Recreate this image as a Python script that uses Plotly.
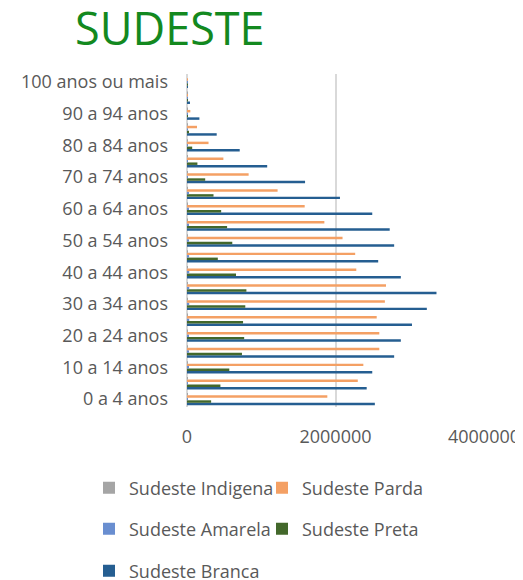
import plotly.graph_objects as go

categories = ["0 a 4 anos", "5 a 9 anos", "10 a 14 anos", "15 a 19 anos", "20 a 24 anos",
              "25 a 29 anos", "30 a 34 anos", "35 a 39 anos", "40 a 44 anos", "45 a 49 anos",
              "50 a 54 anos", "55 a 59 anos", "60 a 64 anos", "65 a 69 anos", "70 a 74 anos",
              "75 a 79 anos", "80 a 84 anos", "85 a 89 anos", "90 a 94 anos", "95 a 99 anos",
              "100 anos ou mais"]

branca = [2530000, 2420000, 2495000, 2790000, 2880000, 3030000, 3230000, 3360000, 2880000, 2575000,
          2790000, 2730000, 2495000, 2060000, 1590000, 1080000, 710000, 400000, 167000, 40000, 6000]
parda = [1890000, 2300000, 2375000, 2590000, 2590000, 2555000, 2665000, 2680000, 2280000, 2265000,
         2095000, 1850000, 1585000, 1220000, 830000, 490000, 290000, 135000, 45000, 10000, 2000]
preta = [325000, 450000, 570000, 740000, 770000, 755000, 785000, 800000, 660000, 415000,
         610000, 540000, 460000, 357000, 245000, 140000, 70000, 27000, 8000, 2000, 500]
amarela = [10000, 12000, 15000, 20000, 25000, 30000, 30000, 30000, 30000, 28000,
           25000, 22000, 20000, 15000, 12000, 10000, 8000, 4000, 2000, 500, 100]
indigena = [8000, 8000, 8000, 9000, 10000, 10000, 10000, 9000, 8000, 7000,
            6000, 5000, 4000, 3000, 2000, 1500, 1000, 500, 200, 100, 50]

tick_labels = categories[::2]
x_ticks = [0, 2000000, 4000000]

series = [
    ("Sudeste Branca", branca, "#255E91", "legend3", 5),
    ("Sudeste Preta", preta, "#43682B", "legend2", 4),
    ("Sudeste Amarela", amarela, "#698ED0", "legend2", 3),
    ("Sudeste Parda", parda, "#F4A064", "legend", 2),
    ("Sudeste Indigena", indigena, "#A5A5A5", "legend", 1),
]

fig = go.Figure()
for name, vals, color, leg, rank in series:
    fig.add_trace(go.Bar(
        y=categories, x=vals, name=name, orientation="h",
        marker=dict(color=color, line=dict(width=0)),
        legend=leg, legendrank=rank,
    ))

font_family = "Open Sans, Noto Sans, sans-serif"
# the page body adds an 8px margin, so the figure is 8px smaller than the window
OFF = 8
W, H = 523 - OFF, 580 - OFF
L, R, T, B = 187 - OFF, 39, 74 - OFF, 173
plot_h = H - T - B
plot_w = W - L - R


def paper_y(page_px):
    return (H - B - (page_px - OFF)) / plot_h


def paper_x(page_px):
    return ((page_px - OFF) - L) / plot_w


legend_common = dict(
    orientation="h", xref="paper", yref="paper",
    xanchor="left", yanchor="middle",
    font=dict(family=font_family, size=18, color="#595959"),
    bgcolor="rgba(0,0,0,0)", entrywidth=128, entrywidthmode="pixels",
    traceorder="normal", itemclick=False, borderwidth=0,
)

fig.update_layout(
    template="none",
    width=W, height=H,
    paper_bgcolor="white", plot_bgcolor="white",
    barmode="group", bargap=0.22, bargroupgap=0,
    margin=dict(l=L, r=R, t=T, b=B, autoexpand=False),
    font=dict(family=font_family, color="#595959"),
    title=dict(text="SUDESTE", x=67 / W, xref="container", xanchor="left",
               y=1 - 21.5 / H, yref="container", yanchor="middle",
               font=dict(family=font_family, size=45, color="#13891F")),
    showlegend=True,
    legend=dict(legend_common, x=paper_x(89), y=paper_y(488)),
    legend2=dict(legend_common, x=paper_x(89), y=paper_y(529)),
    legend3=dict(legend_common, x=paper_x(89), y=paper_y(571)),
    xaxis=dict(range=[0, 4000000], tickvals=x_ticks, tickformat="d",
               showgrid=True, gridcolor="#D9D9D9", gridwidth=2,
               zeroline=True, zerolinecolor="#D9D9D9", zerolinewidth=2,
               showline=False, ticks="", ticklabelstandoff=17, automargin=False,
               tickfont=dict(family=font_family, size=18, color="#595959")),
    yaxis=dict(type="category", categoryorder="array", categoryarray=categories,
               tickvals=tick_labels, ticktext=tick_labels, automargin=False,
               showgrid=False, zeroline=False, showline=False, ticks="",
               ticklabelstandoff=18,
               tickfont=dict(family=font_family, size=18, color="#595959")),
)

fig.write_html("out.html")
